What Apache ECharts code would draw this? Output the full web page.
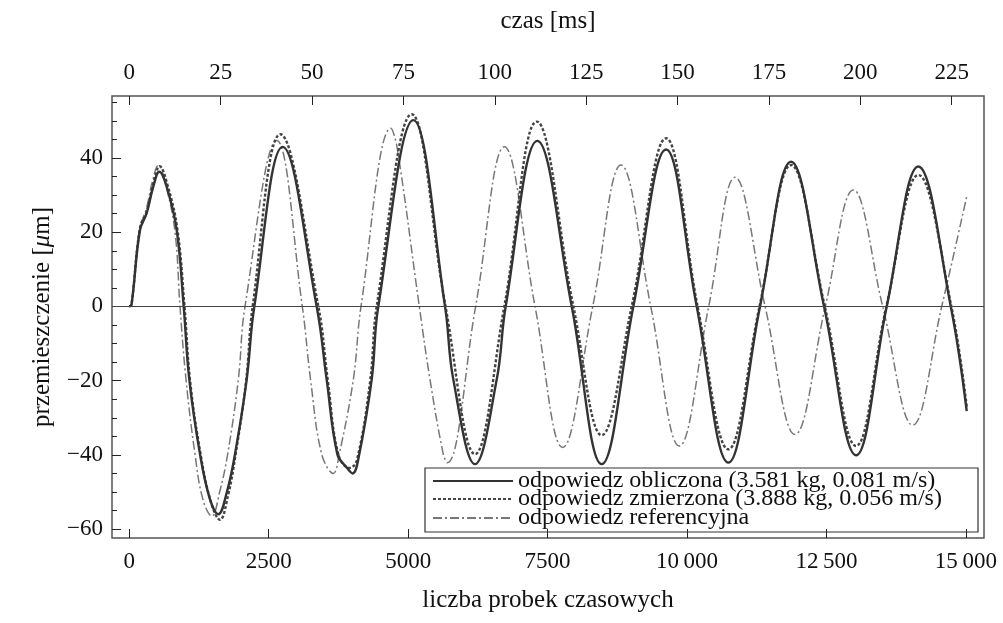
<!DOCTYPE html>
<html>
<head>
<meta charset="utf-8">
<script src="https://cdn.jsdelivr.net/npm/echarts@6/dist/echarts.min.js"></script>
<style>
  html, body { margin: 0; padding: 0; background: #fff; }
  #displacementChart { width: 1003px; height: 623px; }
</style>
</head>
<body>
<div id="displacementChart"></div>
<script>
// odpowiedz obliczona (solid)
var calcX = [0, 40, 192, 312, 430, 538, 670, 850, 975, 1076, 1268, 1447, 1596, 1750, 1895, 2105, 2242, 2750, 3360, 3539, 3730, 3898, 4006, 4106, 4346, 4465, 5093, 5661, 5810, 6199, 6588, 6749, 7316, 7933, 8470, 9038, 9624, 10174, 10741, 11309, 11865, 12457, 13031, 13581, 14148, 14729, 15015];
var calcY = [0, 0.5, 20.6, 25.1, 32.3, 36.3, 32.3, 20.6, 0, -19.7, -39.8, -52, -56.0, -50, -39.8, -19.7, 0, 43.0, 0, -19.7, -39.8, -43.4, -45.0, -41.2, -19.7, 0, 50.2, 0, -19.7, -42.5, -19.7, 0, 44.6, 0, -42.5, 0, 42.3, 0, -42.1, 0, 39.0, 0, -40.1, 0, 37.7, 0, -28.2];

// odpowiedz zmierzona (dotted)
var measX = [0, 40, 190, 310, 430, 545, 680, 860, 990, 1090, 1280, 1460, 1626, 1770, 1905, 2095, 2212, 2708, 3390, 3560, 3750, 3950, 4080, 4320, 4436, 5063, 5670, 6199, 6724, 7305, 7963, 8470, 9008, 9624, 10190, 10741, 11300, 11865, 12470, 13031, 13575, 14148, 14740, 15015];
var measY = [0, 0.5, 21, 25.5, 33, 37.8, 33, 21, 0, -20, -40, -52.5, -57.5, -51, -40, -20, 0, 46.4, 0, -20, -40, -43.5, -41.5, -20, 0, 51.8, 0, -39.8, 0, 49.8, 0, -34.7, 0, 45.3, 0, -38.5, 0, 38.1, 0, -37.6, 0, 35.4, 0, -27];

// odpowiedz referencyjna (dash-dot)
var refX = [0, 40, 185, 300, 420, 520, 650, 820, 909, 1017, 1178, 1320, 1480, 1620, 1764, 1955, 2075, 2643, 3102, 3250, 3450, 3658, 3765, 4017, 4155, 4692, 4800, 5200, 5392, 5630, 5702, 6210, 6724, 7275, 7770, 8310, 8817, 9350, 9862, 10389, 10861, 11400, 11937, 12480, 12982, 13509, 14047, 14567, 15015];
var refY = [0, 0.5, 21, 26, 34, 38, 33, 20, 0, -19.7, -39.8, -52, -56.5, -50, -39.8, -19.7, 0, 44.7, 0, -19.7, -39.8, -45.0, -39.8, -19.7, 0, 48.0, 43, 0, -19.7, -39.8, -42.1, 0, 43.0, 0, -38.0, 0, 38.1, 0, -37.6, 0, 34.8, 0, -34.5, 0, 31.4, 0, -32.0, 0, 29.6];

var seriesNames = ['odpowiedz obliczona (3.581 kg, 0.081 m/s)', 'odpowiedz zmierzona (3.888 kg, 0.056 m/s)', 'odpowiedz referencyjna'];

var sampleTicks = [0, 2500, 5000, 7500, 10000, 12500, 15000];
var msTicks = [0, 25, 50, 75, 100, 125, 150, 175, 200, 225];
var yTicks = [-60, -40, -20, 0, 20, 40];
var yMinorTicks = [-60, -55, -50, -45, -40, -35, -30, -25, -20, -15, -10, -5, 0, 5, 10, 15, 20, 25, 30, 35, 40, 45, 50, 55];

var samplesPerMs = 65.536;
var xMin = -310, xMax = 15325;
var yMin = -62.4, yMax = 56.7;

function pairs(xs, ys) {
    var out = [];
    for (var i = 0; i < xs.length; i++) out.push([xs[i], ys[i]]);
    return out;
}

function fmtNum(v) {
    var s = String(Math.abs(v));
    if (Math.abs(v) >= 10000) s = s.slice(0, s.length - 3) + '\u2009' + s.slice(s.length - 3);
    return (v < 0 ? '\u2212' : '') + s;
}

var font = 'Liberation Serif';

var chart = echarts.init(document.getElementById('displacementChart'));

function legendFor(name, top) {
    return {
        data: [name],
        left: 432,
        top: top,
        orient: 'vertical',
        padding: 0,
        itemWidth: 80,
        itemHeight: 14,
        selectedMode: false,
        itemStyle: {opacity: 0},
        textStyle: {fontFamily: font, fontSize: 24, color: '#111'}
    };
}

function tickStyle(vals, len) {
    return {show: true, inside: true, length: len, customValues: vals, lineStyle: {color: '#222', width: 1}};
}

var option = {
    animation: false,
    backgroundColor: '#fff',
    grid: {
        left: 112, right: 19, top: 96, bottom: 85,
        show: true, borderColor: '#555', borderWidth: 1.5
    },
    legend: [
        legendFor(seriesNames[0], 469),
        legendFor(seriesNames[1], 487),
        legendFor(seriesNames[2], 506)
    ],
    graphic: [{
        type: 'rect',
        shape: {x: 425, y: 468, width: 553, height: 64},
        style: {fill: 'none', stroke: '#333', lineWidth: 1.2},
        z: 5
    }],
    xAxis: [{
        type: 'value',
        position: 'bottom',
        min: xMin, max: xMax,
        name: 'liczba probek czasowych',
        nameLocation: 'middle',
        nameGap: 50,
        nameTextStyle: {fontFamily: font, fontSize: 25, color: '#111'},
        axisLine: {show: false, onZero: false},
        splitLine: {show: false},
        axisTick: tickStyle(sampleTicks, 9),
        axisLabel: {customValues: sampleTicks, margin: 12, formatter: fmtNum, fontFamily: font, fontSize: 23, color: '#111'}
    }, {
        type: 'value',
        position: 'top',
        min: xMin / samplesPerMs, max: xMax / samplesPerMs,
        name: 'czas [ms]',
        nameLocation: 'middle',
        nameGap: 62,
        nameTextStyle: {fontFamily: font, fontSize: 25, color: '#111'},
        axisLine: {show: false, onZero: false},
        splitLine: {show: false},
        axisTick: tickStyle(msTicks, 9),
        axisLabel: {customValues: msTicks, margin: 12, formatter: fmtNum, fontFamily: font, fontSize: 23, color: '#111'}
    }],
    yAxis: [{
        type: 'value',
        position: 'left',
        min: yMin, max: yMax,
        name: 'przemieszczenie [{i|μ}m]',
        nameLocation: 'middle',
        nameGap: 57,
        nameTextStyle: {
            fontFamily: font, fontSize: 25, color: '#111',
            rich: {i: {fontFamily: font, fontSize: 25, fontStyle: 'italic', color: '#111'}}
        },
        axisLine: {show: false, onZero: false},
        splitLine: {show: false},
        axisTick: tickStyle(yTicks, 9),
        axisLabel: {customValues: yTicks, margin: 9, formatter: fmtNum, fontFamily: font, fontSize: 23, color: '#111'}
    }, {
        type: 'value',
        position: 'left',
        min: yMin, max: yMax,
        axisLine: {show: false, onZero: false},
        splitLine: {show: false},
        axisTick: tickStyle(yMinorTicks, 5),
        axisLabel: {show: false}
    }],
    series: [{
        name: seriesNames[0],
        type: 'line',
        data: pairs(calcX, calcY),
        showSymbol: false,
        symbol: 'none',
        smooth: 0.4,
        z: 4,
        lineStyle: {color: '#333', width: 2.4, type: 'solid'},
        itemStyle: {color: '#333'},
        markLine: {
            silent: true,
            symbol: 'none',
            label: {show: false},
            lineStyle: {color: '#444', width: 1, type: 'solid'},
            data: [{yAxis: 0}]
        }
    }, {
        name: seriesNames[1],
        type: 'line',
        data: pairs(measX, measY),
        showSymbol: false,
        symbol: 'none',
        smooth: 0.4,
        z: 3,
        lineStyle: {color: '#444', width: 2.4, type: [3, 2]},
        itemStyle: {color: '#444'}
    }, {
        name: seriesNames[2],
        type: 'line',
        data: pairs(refX, refY),
        showSymbol: false,
        symbol: 'none',
        smooth: 0.4,
        z: 2,
        lineStyle: {color: '#777', width: 1.5, type: [9, 3, 2, 3]},
        itemStyle: {color: '#777'}
    }]
};

chart.setOption(option);
</script>
</body>
</html>
